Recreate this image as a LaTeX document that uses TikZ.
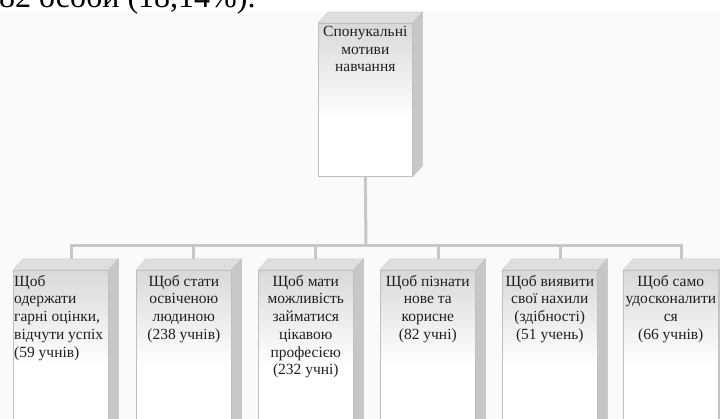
\documentclass[tikz,border=0pt]{standalone}
\usepackage{fontspec}
\setmainfont{Liberation Serif}
\newcommand\cubebox[5]{% name, left, top, width, height
  \node[frontface,anchor=north west,minimum width=#4pt,minimum height=#5pt] (#1) at (#2,#3) {};
  \filldraw[topface] (#1.north west) -- ([shift={(10pt,11pt)}]#1.north west) -- ([shift={(10pt,11pt)}]#1.north east) -- (#1.north east) -- cycle;
  \filldraw[sideface] (#1.north east) -- ([shift={(10pt,11pt)}]#1.north east) -- ([shift={(10pt,11pt)}]#1.south east) -- (#1.south east) -- cycle;
  \shade[top color=black!15,bottom color=white] ([shift={(0.4pt,-0.4pt)}]#1.north west) rectangle ([shift={(-0.4pt,-95pt)}]#1.north east);
  \draw[black!25,line width=0.6pt] (#1.north west) rectangle (#1.south east);
  \coordinate (#1top) at ([yshift=11pt]#1.north);
}
\begin{document}
\begin{tikzpicture}[x=1pt,y=-1pt,
  conn/.style={draw=black!22,line width=3pt,line join=miter},
  frontface/.style={rectangle,draw=black!25,line width=0.6pt,inner sep=0pt,fill=white},
  topface/.style={fill=black!13,draw=black!18,line width=0.5pt},
  sideface/.style={fill=black!22,draw=black!24,line width=0.5pt},
  lbl/.style={inner sep=0pt,font=\fontsize{15.5}{17.7}\selectfont,text=black!88,align=center}]
\useasboundingbox (0,0) rectangle (720,419);
\clip (0,0) rectangle (720,419);
\fill[black!2] (0,12) rectangle (720,419);
\node[font=\fontsize{32}{32}\selectfont,anchor=base west,inner sep=0pt] (cap) at (-1,7.5) {82 особи (18,14\%).};
% boxes
\cubebox{top}{318}{23}{94}{153}
\cubebox{b1}{13}{270}{95}{170}
\cubebox{b2}{136}{270}{95}{170}
\cubebox{b3}{258}{270}{95}{170}
\cubebox{b4}{380}{270}{95}{170}
\cubebox{b5}{502}{270}{95}{170}
\cubebox{b6}{623}{270}{95}{170}
% connectors
\coordinate (bus) at (366,246);
\coordinate (d1) at (71,246);
\coordinate (d2) at (193,246);
\coordinate (d3) at (315,246);
\coordinate (d4) at (438,246);
\coordinate (d5) at (560,246);
\coordinate (d6) at (681,246);
\draw[conn] (top.south) -- (bus);
\draw[conn] (d1 |- b1top) -- (d1) -- (d6) -- (d6 |- b6top);
\draw[conn] (d2) -- (d2 |- b2top);
\draw[conn] (d3) -- (d3 |- b3top);
\draw[conn] (d4) -- (d4 |- b4top);
\draw[conn] (d5) -- (d5 |- b5top);
% texts
\node[lbl,anchor=north] (t0) at ([yshift=-3pt]top.north) {Спонукальні\\мотиви\\навчання};
\node[lbl,align=left,anchor=north west] (t1) at ([shift={(1pt,-5pt)}]b1.north west) {Щоб\\одержати\\гарні оцінки,\\відчути успіх\\(59 учнів)};
\node[lbl,anchor=north] (t2) at ([yshift=-5pt]b2.north) {Щоб стати\\освіченою\\людиною\\(238 учнів)};
\node[lbl,anchor=north] (t3) at ([yshift=-5pt]b3.north) {Щоб мати\\можливість\\займатися\\цікавою\\професією\\(232 учні)};
\node[lbl,anchor=north] (t4) at ([yshift=-5pt]b4.north) {Щоб пізнати\\нове та\\корисне\\(82 учні)};
\node[lbl,anchor=north] (t5) at ([yshift=-5pt]b5.north) {Щоб виявити\\свої нахили\\(здібності)\\(51 учень)};
\node[lbl,anchor=north] (t6) at ([yshift=-5pt]b6.north) {Щоб само\\удосконалити\\ся\\(66 учнів)};
\end{tikzpicture}
\end{document}
